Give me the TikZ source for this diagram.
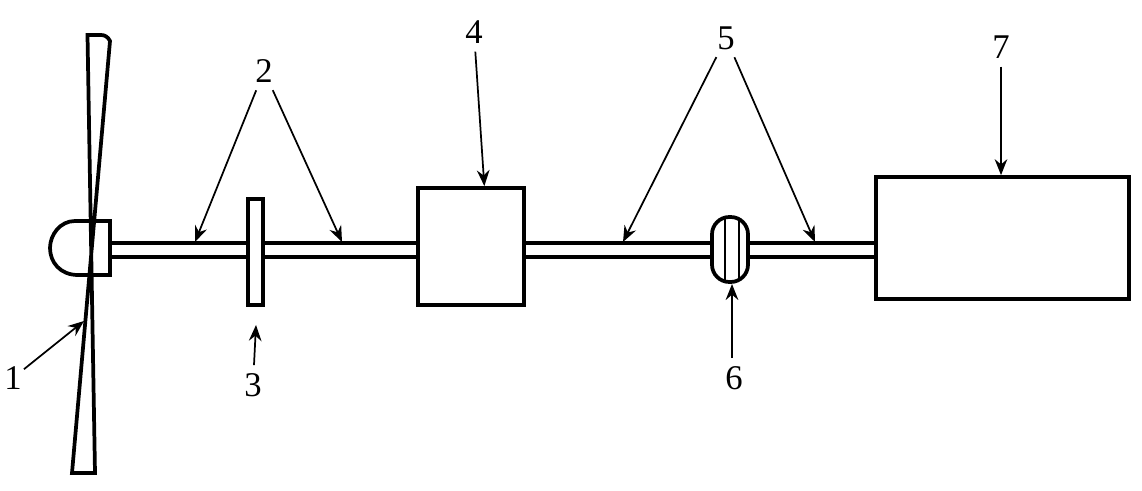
\documentclass[tikz,border=0pt]{standalone}
\usepackage{fontspec}
\setmainfont{Liberation Serif}
\usetikzlibrary{arrows.meta}

\tikzset{
    part/.style={draw, line width=2.8pt, fill=white, inner sep=0pt},
    digit/.style={font=\fontsize{26}{26}\selectfont, inner sep=1.5pt},
    pointer/.style={line width=1.3pt, shorten <=4.5pt, arrows={-Stealth[length=12pt, width=9.5pt, inset=4pt]}},
    shaft/.style={line width=2.5pt}
}

\begin{document}
\begin{tikzpicture}[x=0.75pt, y=-0.75pt]

    \useasboundingbox (0, 0) rectangle (1142, 491);

    \newcommand{\drawShaft}[2]{
      % #1 = left part
      % #2 = right part
      \draw[shaft] (#1.east |- shaftTop) -- (#2.west |- shaftTop);
      \draw[shaft] (#1.east |- shaftBottom) -- (#2.west |- shaftBottom);
    }

    \coordinate (shaftTop) at (0, 243);
    \coordinate (shaftBottom) at (0, 257);

    % rotor
    \draw[line width=2.8pt, line join=miter] (87.5, 35) -- (101, 35) .. controls (105, 35) and (108, 37) .. (110, 41)
        -- (72, 473) -- (95, 473) -- cycle;
    \draw[line width=2.8pt] (110, 221) -- (75, 221) .. controls (60, 221) and (50, 235) .. (50, 248)
        .. controls (50, 262) and (60, 275) .. (78, 275) -- (110, 275) -- cycle;
    \coordinate (hub) at (110, 250);

    % parts on the shaft
    \node[part, minimum width=11.25pt, minimum height=79.5pt] (brake) at (255.5, 252) {};
    \node[part, minimum width=79.5pt, minimum height=87.75pt] (gearbox) at (471, 246.5) {};
    \node[part, minimum width=27pt, minimum height=48.75pt, rounded corners=13pt] (coupling) at (730, 249.5) {};
    \node[part, minimum width=189.75pt, minimum height=91.5pt] (generator) at (1002.5, 238) {};

    \drawShaft{hub}{brake}
    \drawShaft{brake}{gearbox}
    \drawShaft{gearbox}{coupling}
    \drawShaft{coupling}{generator}

    \draw[line width=1.2pt, shorten >=1pt, shorten <=1pt] ([xshift=-3.75pt]coupling.north) -- ([xshift=-3.75pt]coupling.south);
    \draw[line width=1.2pt, shorten >=2pt, shorten <=2pt] ([xshift=6.75pt]coupling.north) -- ([xshift=6.75pt]coupling.south);

    % labels
    \node[digit] (labelOne) at (13, 378) {1};
    \node[digit] (labelTwo) at (264, 71) {2};
    \node[digit] (labelThree) at (253, 385) {3};
    \node[digit] (labelFour) at (474, 32) {4};
    \node[digit] (labelFive) at (726, 38) {5};
    \node[digit] (labelSix) at (734, 378) {6};
    \node[digit] (labelSeven) at (1001, 47) {7};

    \coordinate (onBlade) at (84, 321);
    \coordinate (onShaftA) at (195, 242);
    \coordinate (onShaftB) at (342, 242);
    \coordinate (onShaftC) at (623, 242);
    \coordinate (onShaftD) at (815, 242);
    \coordinate (onBrake) at (256, 325);
    \coordinate (onCoupling) at (732, 284);

    \draw[pointer, shorten <=0pt] (labelOne) -- (onBlade);
    \draw[pointer] (labelTwo) -- (onShaftA);
    \draw[pointer] (labelTwo) -- (onShaftB);
    \draw[pointer] (labelThree) -- (onBrake);
    \draw[pointer] (labelFour) -- ([xshift=10pt]gearbox.north);
    \draw[pointer] (labelFive) -- (onShaftC);
    \draw[pointer] (labelFive) -- (onShaftD);
    \draw[pointer] (labelSix.north -| onCoupling) -- (onCoupling);
    \draw[pointer] (labelSeven) -- (generator.north -| labelSeven);

\end{tikzpicture}
\end{document}
